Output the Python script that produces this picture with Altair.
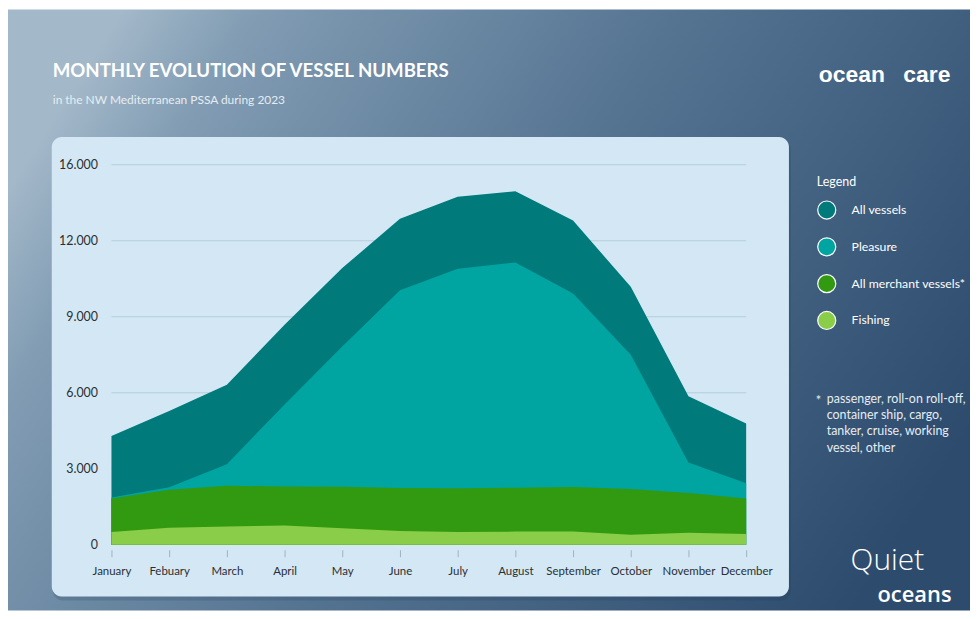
import altair as alt
import pandas as pd

months = ["January", "Febuary", "March", "April", "May", "June", "July",
          "August", "September", "October", "November", "December"]
all_vessels = [4290, 5280, 6320, 8680, 10920, 12870, 13740, 13950, 12800, 10180, 5860, 4790]
pleasure = [1870, 2270, 3180, 5540, 7830, 10050, 10900, 11140, 9920, 7500, 3250, 2430]
merchant = [1830, 2170, 2330, 2300, 2290, 2240, 2230, 2250, 2280, 2200, 2040, 1830]
fishing = [500, 670, 720, 760, 650, 540, 500, 520, 520, 400, 470, 430]

series_names = ["All vessels", "Pleasure", "All merchant vessels*", "Fishing"]
series_colors = ["#007a7a", "#00a4a1", "#329a10", "#8acd48"]
y_tick_values = [0, 3000, 6000, 9000, 12000, 15000]
y_tick_labels = ["0", "3.000", "6.000", "9.000", "12.000", "16.000"]

title_text = "MONTHLY EVOLUTION OF VESSEL NUMBERS"
subtitle_text = "in the NW Mediterranean PSSA during 2023"
legend_title = "Legend"
footnote_star = "*"
footnote_lines = ["passenger, roll-on roll-off,", "container ship, cargo,",
                  "tanker, cruise, working", "vessel, other"]
logo1_a, logo1_b = "ocean", "care"
logo2_a, logo2_b = "Quiet", "oceans"

W, H = 638, 382
PL, PT, PR, PB = 104, 156, 225, 66
FONT = "Lato"

series_values = [all_vessels, pleasure, merchant, fishing]
rows = []
for name, vals in zip(series_names, series_values):
    for m, v in zip(months, vals):
        rows.append({"month": m, "series": name, "value": v})
df = pd.DataFrame(rows)

one = pd.DataFrame({"a": [0]})

bg = alt.Chart(one).mark_rect(
    fill=alt.LinearGradient(
        gradient="linear",
        stops=[alt.GradientStop(offset=0, color="#a3b8c9"),
               alt.GradientStop(offset=0.12, color="#819cb3"),
               alt.GradientStop(offset=0.5, color="#557492"),
               alt.GradientStop(offset=1, color="#2d4b6d")],
        x1=0, y1=0.3, x2=1, y2=0.7),
).encode(x=alt.value(-PL), x2=alt.value(W + PR), y=alt.value(-PT), y2=alt.value(H + PB))

shadow = alt.Chart(one).mark_rect(cornerRadius=10, fill="#1c3550", opacity=0.18).encode(
    x=alt.value(-59), x2=alt.value(683), y=alt.value(-25), y2=alt.value(438))

panel = alt.Chart(one).mark_rect(cornerRadius=10, fill="#d3e8f4").encode(
    x=alt.value(-60), x2=alt.value(681), y=alt.value(-28), y2=alt.value(434))

label_expr = ""
for v, lab in zip(y_tick_values, y_tick_labels):
    label_expr += f"datum.value == {v} ? '{lab}' : "
label_expr += "''"

y_scale = alt.Scale(domain=[0, 15000], nice=False)
y_axis = alt.Axis(values=y_tick_values, labelExpr=label_expr, domain=False,
                  ticks=False, grid=False, labelPadding=14, labelFont=FONT,
                  labelFontSize=12.5, labelColor="#2b2f33", zindex=1)

grid = alt.Chart(pd.DataFrame({"value": y_tick_values[1:]})).mark_rule(
    color="#b3cedd", strokeWidth=1).encode(y=alt.Y("value:Q", scale=y_scale, axis=y_axis, title=None))

x_enc = alt.X("month:N", sort=months, title=None,
              scale=alt.Scale(type="point", padding=0),
              axis=alt.Axis(labelAngle=0, domain=False, tickSize=7, offset=5,
                            tickColor="#9fb2bf", labelPadding=9, labelFont=FONT,
                            labelFontSize=11.5, labelColor="#2b2f33", grid=False, zindex=1))
y_enc = alt.Y("value:Q", stack=None, title=None, scale=y_scale, axis=y_axis)
c_enc = alt.Color("series:N", scale=alt.Scale(domain=series_names, range=series_colors),
                  legend=alt.Legend(title=legend_title, orient="none", legendX=709, legendY=11,
                                    symbolType="circle", symbolSize=330, symbolStrokeColor="white",
                                    symbolStrokeWidth=1.2, symbolOpacity=1, labelColor="white",
                                    titleColor="white", labelFont=FONT, titleFont=FONT,
                                    labelFontSize=12.3, titleFontSize=12.5, titleFontWeight="normal",
                                    labelOffset=15, rowPadding=13, titlePadding=12, padding=0,
                                    labelLimit=300, zindex=1))

areas = []
for name in series_names:
    areas.append(alt.Chart(df).transform_filter(alt.datum.series == name).mark_area(
        interpolate="linear", opacity=1).encode(x=x_enc, y=y_enc, color=c_enc))


def txt(s, x, y, size, color="white", weight="normal", font=FONT, align="left", baseline="middle"):
    return alt.Chart(pd.DataFrame({"t": [s]})).mark_text(
        align=align, baseline=baseline, fontSize=size, fontWeight=weight, font=font, color=color
    ).encode(x=alt.value(x), y=alt.value(y), text="t:N")


texts = [
    txt(title_text, -59, -94, 18.7, weight="bold"),
    txt(subtitle_text, -59, -65, 12, color="#e6edf2"),
    txt(footnote_star, 708, 237, 13, color="#e6edf2"),
    alt.Chart(pd.DataFrame({"t": ["\n".join(footnote_lines)]})).mark_text(
        align="left", baseline="top", fontSize=12.5, font=FONT, color="#e6edf2",
        lineBreak="\n", lineHeight=16.5).encode(x=alt.value(719), y=alt.value(229), text="t:N"),
    txt(logo1_a, 711, -90, 23, weight="bold", font="Liberation Sans"),
    txt(logo1_b, 796, -90, 23, weight="bold", font="Liberation Sans"),
    txt(logo2_a, 743, 407, 30, font="Open Sans", baseline="alphabetic", weight=300),
    txt(logo2_b, 770, 440, 22, font="Open Sans", baseline="alphabetic", weight=600),
]

chart = alt.layer(bg, shadow, panel, grid, *areas, *texts).properties(
    width=W, height=H,
    autosize=alt.AutoSizeParams(type="none"),
    padding={"left": PL, "top": PT, "right": PR, "bottom": PB},
).configure_view(stroke=None).configure(background="white")

chart.save("out.html", embed_options={"renderer": "svg", "actions": False})
